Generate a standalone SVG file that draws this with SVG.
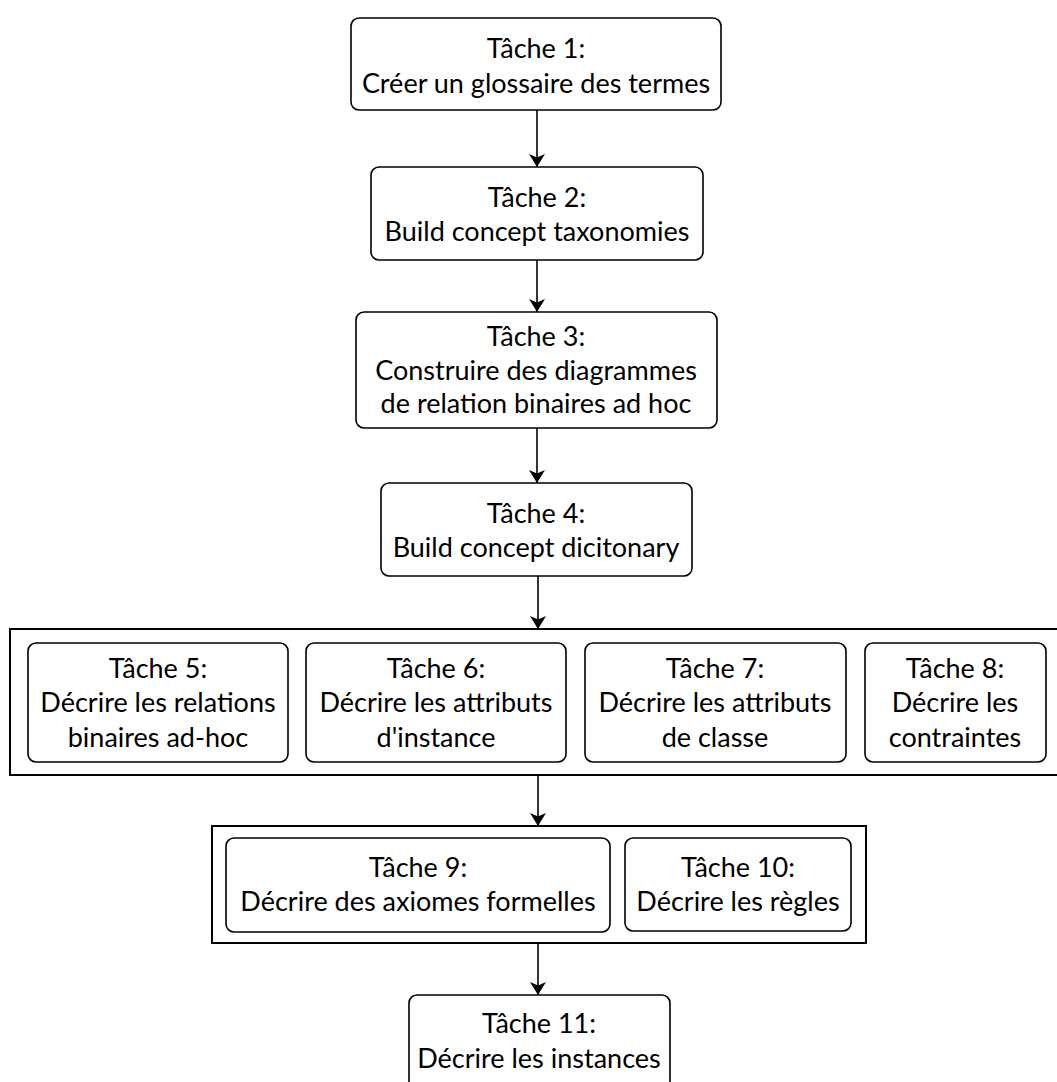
<svg xmlns="http://www.w3.org/2000/svg" width="1057" height="1082" viewBox="0 0 1057 1082">
<style>
.box{fill:#fff;stroke:#000;stroke-width:1.6}
.outer{fill:#fff;stroke:#000;stroke-width:2}
.t{font-family:Lato,"Open Sans",sans-serif;font-size:27px;fill:#000;text-anchor:middle}
.c{stroke:#000;stroke-width:1.6;fill:none;marker-end:url(#arr)}
</style>
<defs>
<marker id="arr" viewBox="0 0 13 16" refX="13" refY="8" markerWidth="13" markerHeight="16" markerUnits="userSpaceOnUse" orient="auto">
<path d="M0,0 L13,8 L0,16 L3.5,8 Z" fill="#000"/>
</marker>
</defs>
<rect width="1057" height="1082" fill="#fff"/>
<g id="connectors">
<line class="c" x1="537" y1="110" x2="537" y2="167"/>
<line class="c" x1="537" y1="260" x2="537" y2="312"/>
<line class="c" x1="537" y1="428" x2="537" y2="483"/>
<line class="c" x1="538" y1="576" x2="538" y2="629"/>
<line class="c" x1="538" y1="775" x2="538" y2="826"/>
<line class="c" x1="538" y1="943" x2="538" y2="995"/>
</g>
<g id="t1"><rect class="box" x="351" y="18" width="370" height="92" rx="8"/>
<text class="t" x="536" y="58">Tâche 1:</text><text class="t" x="536" y="93">Créer un glossaire des termes</text></g>
<g id="t2"><rect class="box" x="371" y="167" width="332" height="93" rx="8"/>
<text class="t" x="537" y="207">Tâche 2:</text><text class="t" x="537" y="241">Build concept taxonomies</text></g>
<g id="t3"><rect class="box" x="356" y="312" width="361" height="116" rx="8"/>
<text class="t" x="536" y="346">Tâche 3:</text><text class="t" x="536" y="380">Construire des diagrammes</text><text class="t" x="536" y="413">de relation binaires ad hoc</text></g>
<g id="t4"><rect class="box" x="381" y="483" width="311" height="93" rx="8"/>
<text class="t" x="536" y="523">Tâche 4:</text><text class="t" x="536" y="557">Build concept dicitonary</text></g>
<g id="group58"><rect class="outer" x="10" y="629" width="1060" height="146"/></g>
<g id="t5"><rect class="box" x="28" y="643" width="260" height="119" rx="8"/>
<text class="t" x="158" y="678">Tâche 5:</text><text class="t" x="158" y="712">Décrire les relations</text><text class="t" x="158" y="747">binaires ad-hoc</text></g>
<g id="t6"><rect class="box" x="306" y="643" width="260" height="119" rx="8"/>
<text class="t" x="436" y="678">Tâche 6:</text><text class="t" x="436" y="712">Décrire les attributs</text><text class="t" x="436" y="747">d'instance</text></g>
<g id="t7"><rect class="box" x="585" y="643" width="261" height="119" rx="8"/>
<text class="t" x="715" y="678">Tâche 7:</text><text class="t" x="715" y="712">Décrire les attributs</text><text class="t" x="715" y="747">de classe</text></g>
<g id="t8"><rect class="box" x="865" y="643" width="181" height="119" rx="8"/>
<text class="t" x="955" y="678">Tâche 8:</text><text class="t" x="955" y="712">Décrire les</text><text class="t" x="955" y="747">contraintes</text></g>
<g id="group910"><rect class="outer" x="212" y="826" width="654" height="117"/></g>
<g id="t9"><rect class="box" x="226" y="838" width="384" height="94" rx="8"/>
<text class="t" x="418" y="877">Tâche 9:</text><text class="t" x="418" y="911">Décrire des axiomes formelles</text></g>
<g id="t10"><rect class="box" x="625" y="838" width="226" height="93" rx="8"/>
<text class="t" x="738" y="877">Tâche 10:</text><text class="t" x="738" y="911">Décrire les règles</text></g>
<g id="t11"><rect class="box" x="409" y="995" width="261" height="100" rx="8"/>
<text class="t" x="539" y="1033">Tâche 11:</text><text class="t" x="539" y="1068">Décrire les instances</text></g>
</svg>
